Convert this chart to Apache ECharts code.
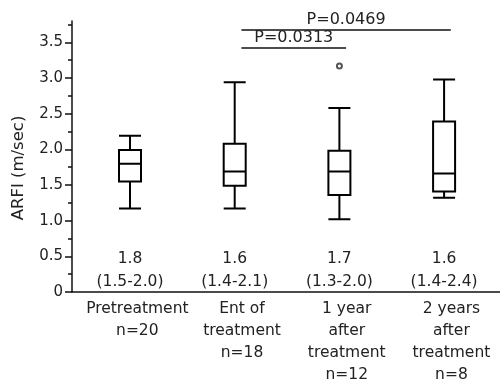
<!DOCTYPE html>
<html>
<head>
<meta charset="utf-8">
<script src="https://cdn.jsdelivr.net/npm/echarts@6/dist/echarts.min.js"></script>
<style>
html,body{margin:0;padding:0;background:#fff;}
#chart{width:500px;height:381px;}
</style>
</head>
<body>
<div id="chart"></div>
<script>
// ---- data ----
const categories = ['Pretreatment', 'Ent of\ntreatment', '1 year\nafter\ntreatment', '2 years\nafter\ntreatment'];
const groupSizes = [20, 18, 12, 8];
const boxLow    = [1.17, 1.17, 1.02, 1.32];
const boxQ1     = [1.55, 1.49, 1.36, 1.41];
const boxMedian = [1.80, 1.69, 1.69, 1.66];
const boxQ3     = [1.99, 2.08, 1.98, 2.39];
const boxHigh   = [2.19, 2.94, 2.58, 2.98];
const outlierGroup = [2];
const outlierValue = [3.17];
const medianText = ['1.8', '1.6', '1.7', '1.6'];
const iqrText    = ['1.5-2.0', '1.4-2.1', '1.3-2.0', '1.4-2.4'];
const yTicks      = [0, 0.5, 1.0, 1.5, 2.0, 2.5, 3.0, 3.5];
const yMinorTicks = [0.25, 0.75, 1.25, 1.75, 2.25, 2.75, 3.25, 3.75];
const compFrom   = [1, 1];
const compTo     = [3, 2];
const compP      = ['0.0469', '0.0313'];
const compLevel  = [3.68, 3.42];

// ---- layout constants ----
const FONT = 'DejaVu Sans';
const TXT = '#222';
const labelY = 0.30;
const barShift = 0.064;
const catShift = 0.07;

const boxData = categories.map((c, i) => [i, boxLow[i], boxQ1[i], boxMedian[i], boxQ3[i], boxHigh[i]]);
const outData = outlierGroup.map((g, i) => [g, outlierValue[i]]);
const medLabelData = categories.map((c, i) => ({ value: [i, labelY], txt: medianText[i] + '\n(' + iqrText[i] + ')' }));
const markData = compP.map((p, i) => [
  { coord: [compFrom[i] + barShift, compLevel[i]], name: 'P=' + p },
  { coord: [compTo[i] + barShift, compLevel[i]] }
]);

const chart = echarts.init(document.getElementById('chart'), null, { renderer: 'canvas' });
chart.setOption({
  animation: false,
  backgroundColor: '#fff',
  textStyle: { fontFamily: FONT },
  grid: { left: 72, right: 0, top: 21, bottom: 89, containLabel: false, outerBoundsMode: 'none' },
  xAxis: {
    type: 'value',
    min: -0.554,
    max: 3.534,
    splitLine: { show: false },
    axisTick: { show: false },
    axisLine: { show: true, onZero: false, lineStyle: { color: '#111', width: 1.5 } },
    axisLabel: {
      customValues: categories.map((c, i) => i + catShift),
      showMinLabel: true, showMaxLabel: true, hideOverlap: false,
      formatter: v => { const i = Math.round(v); return categories[i] + '\nn=' + groupSizes[i]; },
      color: TXT, fontFamily: FONT, fontSize: 15.5, lineHeight: 22,
      margin: 6, align: 'center'
    }
  },
  yAxis: [{
    type: 'value',
    min: 0, max: 3.8,
    splitLine: { show: false },
    axisLine: { show: true, onZero: false, lineStyle: { color: '#111', width: 1.5 } },
    axisTick: { show: true, customValues: yTicks, length: 7, lineStyle: { color: '#111', width: 1.5 } },
    axisLabel: {
      customValues: yTicks,
      formatter: v => v === 0 ? '0' : v.toFixed(1),
      color: TXT, fontFamily: FONT, fontSize: 15, margin: 9
    }
  }, {
    type: 'value',
    min: 0, max: 3.8,
    position: 'left',
    offset: 0,
    splitLine: { show: false },
    axisLine: { show: false, onZero: false },
    axisTick: { show: true, customValues: yMinorTicks, length: 4, lineStyle: { color: '#111', width: 1.5 } },
    axisLabel: { show: false }
  }],
  graphic: [{
    type: 'text',
    x: 19, y: 168,
    rotation: Math.PI / 2,
    style: { text: 'ARFI (m/sec)', font: '16.5px "DejaVu Sans"', fill: TXT, textAlign: 'center', textVerticalAlign: 'middle' }
  }],
  series: [{
    type: 'boxplot',
    data: boxData,
    boxWidth: [22, 22],
    itemStyle: { color: '#fff', borderColor: '#000', borderWidth: 2 },
    silent: true
  }, {
    type: 'scatter',
    data: outData,
    symbol: 'emptyCircle',
    symbolSize: 5,
    itemStyle: { color: '#555', borderWidth: 1, opacity: 1 },
    silent: true,
    markLine: {
      silent: true,
      symbol: 'none',
      lineStyle: { color: '#111', width: 1.5, type: 'solid' },
      label: { show: true, position: 'middle', formatter: '{b}', color: TXT, fontFamily: FONT, fontSize: 16, distance: 2 },
      data: markData
    }
  }, {
    type: 'scatter',
    data: medLabelData,
    symbolSize: 0,
    silent: true,
    itemStyle: { opacity: 1, color: '#fff' },
    label: {
      show: true, position: 'inside',
      formatter: p => p.data.txt,
      color: TXT, textBorderWidth: 0, opacity: 1,
      fontFamily: FONT, fontSize: 15.5, lineHeight: 23, align: 'center'
    }
  }]
});
</script>
</body>
</html>
